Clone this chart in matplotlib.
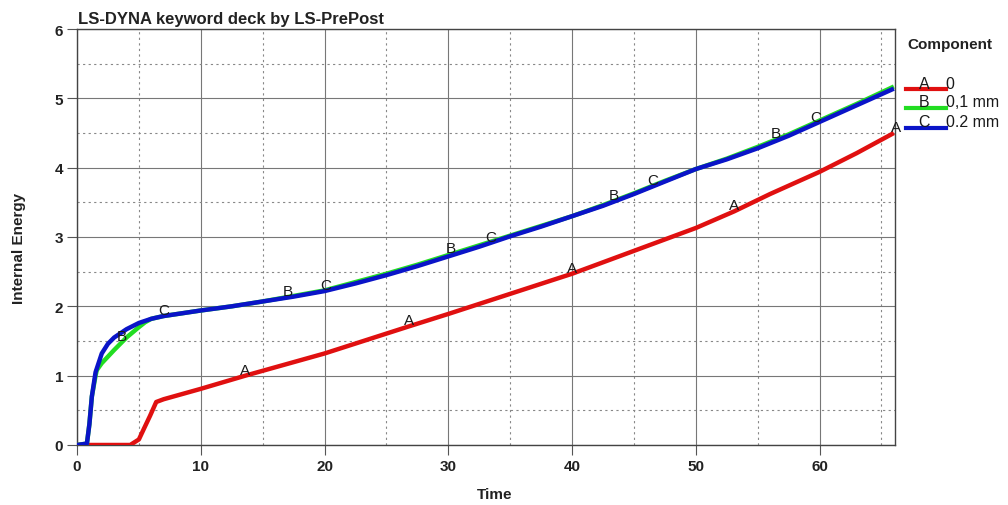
import numpy as np
import matplotlib
matplotlib.use("Agg")
import matplotlib.pyplot as plt
from matplotlib.lines import Line2D

plt.rcParams['font.family'] = ['Liberation Sans', 'DejaVu Sans']

title = "LS-DYNA keyword deck by LS-PrePost"
xlabel = "Time"
ylabel = "Internal Energy"
legend_title = "Component"

# Series A (0)
a_t = [0, 4.3, 5.0, 5.5, 5.9, 6.4, 7, 10, 13.6, 20, 26.8, 30, 35, 40, 45, 50, 53.1, 56, 60, 63, 66]
a_e = [0, 0, 0.08, 0.27, 0.42, 0.62, 0.66, 0.81, 1.0, 1.32, 1.71, 1.89, 2.18, 2.47, 2.8, 3.13, 3.37, 3.62, 3.94, 4.21, 4.5]

# Series B (0,1 mm)
b_t = [0, 0.8, 1.0, 1.2, 1.5, 1.6, 2.0, 3.0, 4.0, 5.0, 5.5, 6.0, 7.0, 8.5, 10, 12.5, 15, 17.5, 20, 22.5, 25,
       27.5, 30, 32.5, 35, 37.5, 40, 42.5, 45, 47.5, 50, 52.5, 55, 57.5, 60, 63, 66]
b_e = [0, 0.02, 0.3, 0.7, 1.0, 1.08, 1.18, 1.37, 1.55, 1.7, 1.77, 1.82, 1.86, 1.9, 1.94, 2.0, 2.07, 2.15, 2.23,
       2.35, 2.47, 2.6, 2.74, 2.88, 3.02, 3.16, 3.3, 3.46, 3.63, 3.81, 3.98, 4.13, 4.3, 4.48, 4.68, 4.92, 5.17]

# Series C (0.2 mm)
c_t = [0, 0.8, 1.0, 1.2, 1.5, 2.0, 2.5, 3.0, 4.0, 5.0, 6.0, 7.0, 8.5, 10, 12.5, 15, 17.5, 20, 22.5, 25, 27.5,
       30, 32.5, 35, 37.5, 40, 42.5, 45, 47.5, 50, 52.5, 55, 57.5, 60, 63, 66]
c_e = [0, 0.02, 0.3, 0.7, 1.05, 1.32, 1.46, 1.55, 1.67, 1.76, 1.82, 1.86, 1.9, 1.94, 2.0, 2.07, 2.14, 2.22,
       2.33, 2.45, 2.58, 2.72, 2.86, 3.01, 3.15, 3.3, 3.45, 3.62, 3.8, 3.98, 4.12, 4.28, 4.46, 4.66, 4.9, 5.14]

series_letters = ["A", "B", "C"]
series_names = ["0", "0,1 mm", "0.2 mm"]
series_colors = ["#e01010", "#22dd22", "#0a14c8"]
a_marks = [13.6, 26.8, 40.0, 53.1, 66.2]
b_marks = [3.6, 17.0, 30.2, 43.4, 56.5]
c_marks = [7.0, 20.1, 33.4, 46.5, 59.7]

xticks = [0, 10, 20, 30, 40, 50, 60]
yticks = [0, 1, 2, 3, 4, 5, 6]

fig = plt.figure(figsize=(10.08, 5.06), dpi=100)
ax = fig.add_axes([0.0764, 0.1186, 0.8116, 0.8221])

series = [(a_t, a_e, a_marks), (b_t, b_e, b_marks), (c_t, c_e, c_marks)]
for (t, e, marks), col, let in zip(series, series_colors, series_letters):
    ax.plot(t, e, color=col, lw=3.2, solid_capstyle='butt', zorder=3)
for (t, e, marks), col, let in zip(series, series_colors, series_letters):
    for m in marks:
        ym = np.interp(m, t, e)
        ax.text(m, ym + 0.03, let, ha='center', va='baseline', fontsize=11, color='#1a1a1a',
                zorder=5, clip_on=False)

ax.set_xlim(0, 66.1)
ax.set_ylim(0, 6)
ax.set_xticks(xticks)
ax.set_yticks(yticks)
ax.set_xticks(np.arange(5, 66, 10), minor=True)
ax.set_yticks(np.arange(0.5, 6, 1), minor=True)
ax.grid(True, which='major', color='#777777', lw=0.8, ls='-')
ax.grid(True, which='minor', color='#888888', lw=0.8, ls=(0, (2, 3)))
ax.tick_params(which='major', direction='out', length=7, width=0.8, color='#555555',
               labelsize=11, pad=3)
ax.tick_params(which='minor', length=0)
for lab in ax.get_xticklabels() + ax.get_yticklabels():
    lab.set_fontweight('bold')
    lab.set_color('#222222')
for s in ax.spines.values():
    s.set_color('#444444')
    s.set_linewidth(1.0)

fig.text(0.0774, 0.962, title, fontsize=12, fontweight='bold', color='#222222', ha='left', va='center')
fig.text(0.491, 0.022, xlabel, fontsize=11, fontweight='bold', color='#222222', ha='center', va='center')
fig.text(0.019, 0.51, ylabel, fontsize=11, fontweight='bold', color='#222222', ha='center', va='center',
         rotation=90)

# legend
fig.text(0.9, 0.912, legend_title, fontsize=11, fontweight='bold', color='#222222', ha='left', va='center')
ys = [0.822, 0.785, 0.746]
for yv, col, let, name in zip(ys, series_colors, series_letters, series_names):
    fig.add_artist(Line2D([0.899, 0.938], [yv, yv], color=col, lw=3.0, transform=fig.transFigure))
    fig.text(0.917, yv + 0.003, let, fontsize=11.5, color='#1a1a1a', ha='center', va='baseline')
    fig.text(0.938, yv + 0.003, name, fontsize=11.5, color='#1a1a1a', ha='left', va='baseline')

fig.savefig("out.png", dpi=100)
